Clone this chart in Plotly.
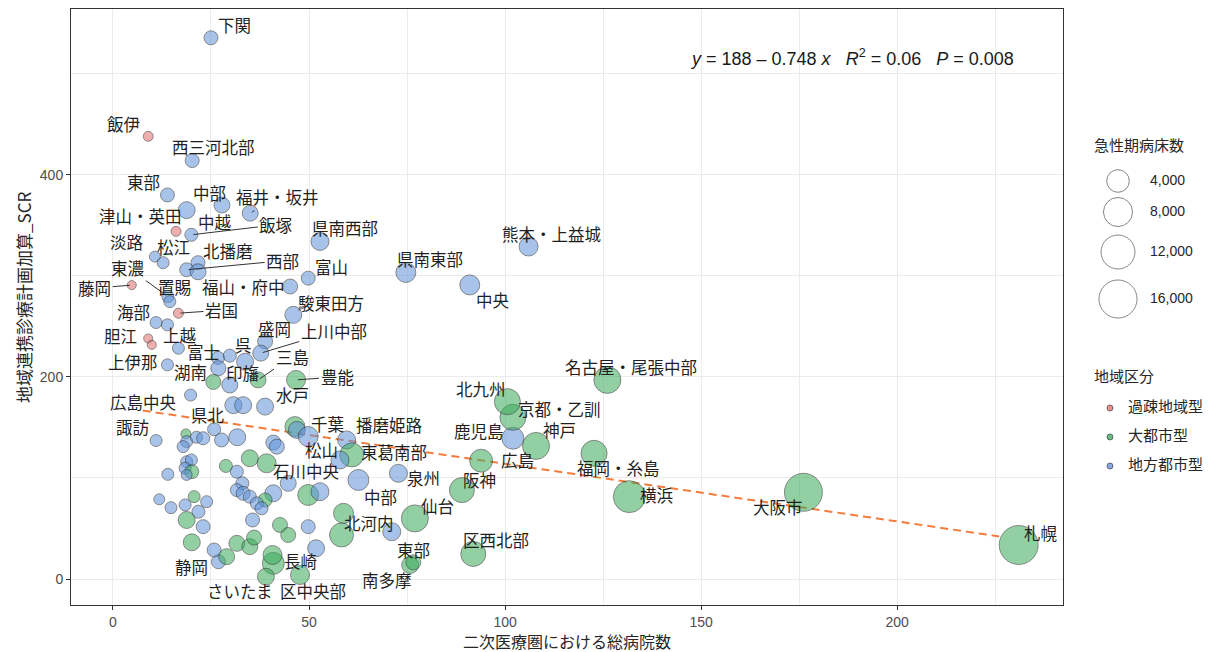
import numpy as np
import plotly.graph_objects as go

# ---- data: secondary medical areas -------------------------------------
area_name = [
    "下関", "飯伊", "西三河北部", "東部", "中部", "福井・坂井", "中越", "津山・英田", "飯塚", "淡路",
    "松江", "北播磨", "西部", "", "東濃", "置賜", "藤岡", "岩国", "海部", "",
    "胆江", "", "上越", "上伊那", "富士", "", "", "呉", "盛岡", "上川中部",
    "三島", "湖南", "印旛", "豊能", "水戸", "広島中央", "県北", "", "諏訪", "千葉",
    "", "", "播磨姫路", "東葛南部", "松山", "石川中央", "中部", "泉州", "北河内", "",
    "", "仙台", "東部", "南多摩", "区西北部", "阪神", "広島", "鹿児島", "神戸", "京都・乙訓",
    "北九州", "名古屋・尾張中部", "福岡・糸島", "横浜", "大阪市", "札幌", "熊本・上益城", "中央", "県南東部", "県南西部",
    "富山", "福山・府中", "駿東田方", "静岡", "長崎", "さいたま", "区中央部",
    "", "", "", "", "", "", "", "", "", "",
    "", "", "", "", "", "", "", "", "", "",
    "", "", "", "", "", "", "", "", "", "",
    "", "", "", "", "", "", "", "", "", "",
    "", "", "", "", "", "", "", "", "", "",
]

hospitals = [
    25.0, 9.0, 20.2, 13.9, 27.8, 35.0, 18.8, 16.1, 20.0, 10.7,
    12.8, 21.7, 18.8, 21.7, 14.0, 14.5, 4.8, 16.7, 11.0, 13.9,
    9.0, 9.9, 16.7, 13.9, 26.8, 29.8, 26.9, 33.7, 38.8, 37.7,
    37.0, 25.6, 29.8, 46.7, 38.8, 19.8, 30.7, 33.2, 11.0, 46.4,
    46.9, 49.8, 59.6, 60.9, 57.9, 44.7, 62.6, 72.8, 58.8, 58.3,
    71.1, 77.0, 75.8, 76.6, 91.9, 89.0, 93.9, 102.0, 107.9, 102.0,
    100.6, 126.1, 122.7, 131.7, 176.1, 231.0, 106.0, 91.0, 74.7, 52.8,
    49.8, 45.2, 46.0, 26.9, 40.9, 39.0, 47.7,
    25.8, 18.6, 18.8, 17.9, 21.3, 23.0, 27.7, 31.7, 40.9, 41.8,
    34.9, 39.2, 18.8, 20.0, 18.4, 20.1, 18.8, 14.0, 28.8, 31.6,
    33.0, 31.6, 33.2, 34.9, 40.9, 38.8, 36.7, 37.9, 49.8, 52.8,
    35.6, 42.6, 44.7, 49.8, 51.8, 11.8, 14.8, 18.4, 20.7, 23.9,
    21.8, 18.8, 23.0, 20.1, 25.8, 29.0, 31.6, 34.9, 40.7, 36.0,
]

scr = [
    535.5, 438.0, 414.0, 380.0, 370.0, 362.0, 365.0, 344.0, 340.6, 319.0,
    313.0, 313.0, 306.0, 304.0, 279.5, 274.5, 290.8, 263.0, 253.8, 251.5,
    238.0, 231.7, 228.4, 211.9, 218.8, 221.0, 208.6, 215.0, 235.0, 223.5,
    197.0, 195.0, 192.0, 197.0, 170.6, 182.0, 172.0, 172.0, 137.0, 150.8,
    147.5, 141.0, 137.6, 122.8, 117.8, 94.7, 98.0, 104.6, 65.0, 43.6,
    46.8, 60.0, 13.9, 16.5, 24.8, 88.0, 117.1, 139.3, 131.7, 160.0,
    175.5, 197.0, 124.4, 81.5, 85.8, 33.7, 329.0, 291.0, 303.3, 334.0,
    297.7, 289.4, 261.4, 17.1, 15.5, 2.3, 4.0,
    148.2, 143.6, 136.0, 131.0, 140.3, 139.3, 137.6, 140.3, 135.0, 131.0,
    119.5, 114.5, 116.0, 117.8, 109.6, 106.2, 103.0, 103.6, 111.9, 106.2,
    94.7, 88.0, 84.8, 81.5, 84.8, 78.2, 74.9, 70.0, 83.2, 86.4,
    58.4, 53.5, 43.6, 51.8, 30.4, 78.9, 70.6, 73.3, 81.5, 76.5,
    66.6, 58.4, 51.8, 36.3, 28.7, 22.1, 35.3, 32.0, 23.8, 41.0,
]

# acute-phase beds per area
beds = [
    920, 370, 920, 920, 1410, 1410, 1700, 370, 740, 450,
    580, 920, 920, 1410, 580, 580, 320, 370, 580, 580,
    320, 320, 580, 580, 740, 740, 1150, 1700, 1150, 1410,
    1410, 1150, 1410, 2400, 1700, 580, 1700, 1700, 580, 2790,
    1700, 2790, 2040, 4750, 2040, 1410, 3220, 2040, 2790, 4750,
    2040, 6570, 1700, 1150, 5320, 5320, 4150, 3670, 6570, 5930,
    5930, 6570, 5930, 10300, 15940, 17000, 2400, 2790, 2790, 2040,
    920, 1150, 1700, 920, 3670, 1700, 2400,
    740, 370, 580, 580, 580, 740, 920, 1700, 1150, 1150,
    1700, 2400, 580, 580, 580, 920, 450, 580, 740, 740,
    740, 740, 920, 740, 1700, 920, 740, 740, 3220, 2040,
    920, 1150, 1150, 920, 1700, 450, 580, 580, 580, 580,
    740, 1700, 920, 1700, 920, 1410, 1410, 1410, 2400, 1150,
]

# K = 過疎地域型, M = 大都市型, R = 地方都市型
area_type = (
    list("RKRRRRRKRR") + list("RRRRRRKKRR") + list("KKRRRRRRRR") +
    list("MMRMRRRRRM") + list("RRRMRRRRMM") + list("RMMMMMMRMM") +
    list("MMMMMMRRRR") + list("RRRRMMM") +
    list("RMRRRRRRRR") + list("MMRRRMRRMR") + list("RRRRRMRRMR") +
    list("RMMRRRRRMR") + list("RMRMRMMMMM")
)

type_names = {"K": "過疎地域型", "M": "大都市型", "R": "地方都市型"}
type_fill = {"K": "rgba(228,112,112,0.80)", "M": "rgba(58,170,90,0.78)", "R": "rgba(96,146,218,0.78)"}

# fitted trend line
fit_intercept = 171.0
fit_slope = -0.57
fit_x = [7.6, 226.0]

size_breaks = [4000, 8000, 12000, 16000]

# label placement: (dx, dy in screen px from the point, leader segment?)
label_offset = [
    (24, -13, 0), (-25, -12, 0), (21, -14, 0), (-24, -13, 0), (-12, -12, 0),
    (27, -16, 1), (28, 12, 0), (-36, -15, 0), (85, -10, 1), (-28, -15, 0),
    (10, -16, 0), (30, -12, 0), (96, -9, 1), None, (-40, -29, 1),
    (5, -15, 0), (-37, 3, 1), (43, -3, 1), (-23, -11, 0), None,
    (-28, -2, 0), None, (2, -13, 0), (-34, -3, 0), (-15, -6, 0),
    None, None, (-2, -17, 0), (9, -13, 0), (73, -22, 1),
    (34, -23, 1), (-23, -10, 0), (13, -12, 0), (41, -3, 1), (27, -12, 0),
    (-47, 7, 0), (-25, 10, 0), None, (-24, -14, 0), (33, -3, 0),
    None, None, (43, -15, 0), (42, -3, 0), (-18, -10, 0),
    (18, -12, 0), (22, 17, 0), (25, 5, 0), (25, 10, 0), None,
    None, (23, -12, 0), (3, -15, 0), (-26, 18, 0), (23, -14, 0),
    (18, -10, 0), (36, -1, 0), (-34, -7, 0), (23, -16, 0), (47, -8, 0),
    (-26, -13, 0), (24, -13, 0), (24, 15, 0), (27, -2, 0), (-25, 15, 0),
    (22, -12, 0), (23, -13, 0), (23, 15, 0), (24, -13, 0), (25, -13, 0),
    (23, -11, 0), (-47, 0, 0), (38, -12, 0), (-27, 5, 0), (27, -2, 0),
    (-26, 14, 0), (13, 16, 0),
]
label_offset += [None] * (len(area_name) - len(label_offset))


def bubble_diameter(v):
    v = np.asarray(v, dtype=float)
    return 8 + 31 * np.sqrt(np.clip((v - 300) / 16700, 0, None))


W, H = 1218, 652
PX_L, PX_R, PX_T, PX_B = 71, 1063, 9, 605
X_RANGE = [-10.7, 242.3]
Y_RANGE = [-25.7, 564.0]

JP = "Noto Sans CJK JP"
LAT = "Liberation Sans, Arial, sans-serif"
LABEL_SIZE = 16.5

fig = go.Figure()

# trend line
fx = np.array(fit_x)
fig.add_trace(go.Scatter(
    x=fx, y=fit_intercept + fit_slope * fx, mode="lines",
    line=dict(color="#F27C3C", width=2, dash="8px,5px"),
    hoverinfo="skip",
))

# bubbles
hx = np.array(hospitals)
sy = np.array(scr)
bd = np.array(beds)
at = np.array(area_type)
fig.add_trace(go.Scatter(
    x=hx, y=sy, mode="markers",
    marker=dict(
        size=bubble_diameter(bd),
        color=[type_fill[t] for t in at],
        line=dict(color="rgba(45,45,45,0.75)", width=1),
    ),
    text=area_name, hoverinfo="text",
))

annotations = []
for name, x, y, off in zip(area_name, hospitals, scr, label_offset):
    if not name or off is None:
        continue
    dx, dy, leader = off
    if leader:
        annotations.append(dict(
            x=x, y=y, xref="x", yref="y", text=name, showarrow=True,
            ax=dx, ay=dy, arrowhead=0, arrowwidth=1, arrowcolor="#333333",
            standoff=2, font=dict(family=JP, size=LABEL_SIZE, color="#1f1f1f"),
        ))
    else:
        annotations.append(dict(
            x=x, y=y, xref="x", yref="y", text=name, showarrow=False,
            xshift=dx, yshift=-dy, font=dict(family=JP, size=LABEL_SIZE, color="#1f1f1f"),
        ))

# regression annotation
annotations.append(dict(
    x=688 / W, y=1 - 57 / H, xref="paper", yref="paper", xanchor="left", yanchor="middle",
    text="<i>y</i> = 188 \u2013 0.748 <i>x</i>   <i>R</i><sup>2</sup> = 0.06   <i>P</i> = 0.008",
    showarrow=False, font=dict(family=LAT, size=18, color="#1a1a1a"),
))

# axis titles
annotations.append(dict(
    x=(PX_L + PX_R) / 2 / W, y=1 - 641 / H, xref="paper", yref="paper",
    xanchor="center", yanchor="middle",
    text="二次医療圏における総病院数", showarrow=False,
    font=dict(family=JP, size=16, color="#262626"),
))
annotations.append(dict(
    x=23 / W, y=1 - 298 / H, xref="paper", yref="paper", textangle=-90,
    xanchor="center", yanchor="middle",
    text="地域連携診療計画加算_SCR", showarrow=False,
    font=dict(family=JP, size=17, color="#262626"),
))

# legend titles
annotations.append(dict(
    x=1092 / W, y=1 - 145 / H, xref="paper", yref="paper", xanchor="left", yanchor="middle",
    text="急性期病床数", showarrow=False, font=dict(family=JP, size=15, color="#262626"),
))
annotations.append(dict(
    x=1092 / W, y=1 - 375 / H, xref="paper", yref="paper", xanchor="left", yanchor="middle",
    text="地域区分", showarrow=False, font=dict(family=JP, size=15, color="#262626"),
))

# size legend (drawn on a pixel-scaled helper axis)
leg_y = [181, 212, 252, 299]
fig.add_trace(go.Scatter(
    x=[1118] * len(size_breaks), y=leg_y, xaxis="x2", yaxis="y2", mode="markers",
    marker=dict(size=bubble_diameter(size_breaks), color="white",
                line=dict(color="#555555", width=1)),
    hoverinfo="skip",
))
fig.add_trace(go.Scatter(
    x=[1150] * len(size_breaks), y=leg_y, xaxis="x2", yaxis="y2", mode="text",
    text=[f"{v:,}" for v in size_breaks], textposition="middle right",
    textfont=dict(family=LAT, size=14, color="#262626"), hoverinfo="skip",
))

# colour legend
type_order = ["K", "M", "R"]
col_y = [408, 437, 466]
fig.add_trace(go.Scatter(
    x=[1110] * 3, y=col_y, xaxis="x2", yaxis="y2", mode="markers",
    marker=dict(size=6, color=[type_fill[t] for t in type_order],
                line=dict(color="rgba(45,45,45,0.6)", width=1)),
    hoverinfo="skip",
))
fig.add_trace(go.Scatter(
    x=[1128] * 3, y=col_y, xaxis="x2", yaxis="y2", mode="text",
    text=[type_names[t] for t in type_order], textposition="middle right",
    textfont=dict(family=JP, size=15, color="#262626"), hoverinfo="skip",
))

grid = "#EBEBEB"
fig.update_layout(
    width=W, height=H,
    margin=dict(l=0, r=0, t=0, b=0),
    paper_bgcolor="white", plot_bgcolor="white",
    showlegend=False, hovermode="closest",
    annotations=annotations,
    xaxis=dict(
        domain=[PX_L / W, PX_R / W], range=X_RANGE, tickvals=[0, 50, 100, 150, 200],
        showgrid=True, gridcolor=grid, gridwidth=1.3, zeroline=False,
        minor=dict(tickvals=[25, 75, 125, 175, 225], showgrid=True, gridcolor=grid, gridwidth=1),
        showline=True, mirror=True, linecolor="#333333", linewidth=1,
        ticks="outside", ticklen=4, tickcolor="#333333",
        tickfont=dict(family=LAT, size=14, color="#4D4D4D"), automargin=False,
    ),
    yaxis=dict(
        domain=[1 - PX_B / H, 1 - PX_T / H], range=Y_RANGE, tickvals=[0, 200, 400],
        showgrid=True, gridcolor=grid, gridwidth=1.3, zeroline=False,
        minor=dict(tickvals=[100, 300, 500], showgrid=True, gridcolor=grid, gridwidth=1),
        showline=True, mirror=True, linecolor="#333333", linewidth=1,
        ticks="outside", ticklen=4, tickcolor="#333333",
        tickfont=dict(family=LAT, size=14, color="#4D4D4D"), automargin=False,
    ),
    xaxis2=dict(domain=[1065 / W, 1], range=[1065, W], visible=False, anchor="y2"),
    yaxis2=dict(domain=[0, 1], range=[H, 0], visible=False, anchor="x2"),
)

fig.write_html("out.html")
